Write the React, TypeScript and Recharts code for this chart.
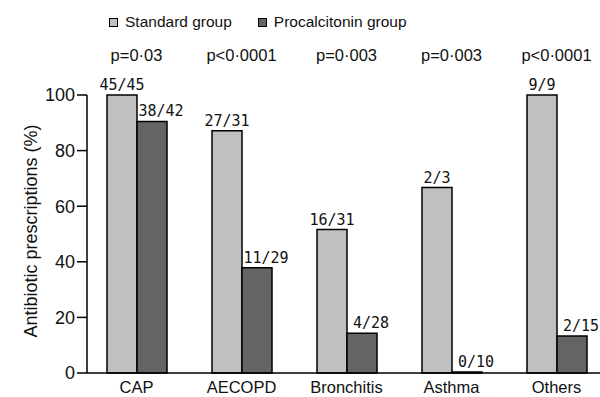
import React from 'react';
import { BarChart, Bar, XAxis, YAxis, Legend, LabelList } from 'recharts';

const categories = ['CAP', 'AECOPD', 'Bronchitis', 'Asthma', 'Others'];
const seriesNames = ['Standard group', 'Procalcitonin group'];
const standardPct = [100, 87.1, 51.6, 66.7, 100];
const procalcitoninPct = [90.5, 37.9, 14.3, 0, 13.3];
const standardLabels = ['45/45', '27/31', '16/31', '2/3', '9/9'];
const procalcitoninLabels = ['38/42', '11/29', '4/28', '0/10', '2/15'];
const pValues = ['p=0·03', 'p<0·0001', 'p=0·003', 'p=0·003', 'p<0·0001'];
const yTicks = [0, 20, 40, 60, 80, 100];

const STD_COLOR = '#c0c0c0';
const PCT_COLOR = '#646464';
const SANS = '"Liberation Sans", Arial, sans-serif';
const MONO = '"DejaVu Sans Mono", monospace';

const data = categories.map((cat, i) => ({
  cat,
  std: standardPct[i],
  pct: procalcitoninPct[i],
  stdLabel: standardLabels[i],
  pctLabel: procalcitoninLabels[i],
}));

const pByCat: Record<string, string> = {};
categories.forEach((c, i) => { pByCat[c] = pValues[i]; });

const makeLabel = (dx: number) => (props: any) => {
  const { x, y, width, value } = props;
  return (
    <text
      x={Number(x) + Number(width) / 2 + dx}
      y={Number(y) - 5}
      textAnchor="middle"
      fontFamily={MONO}
      fontSize={15}
      fill="#111"
    >
      {value}
    </text>
  );
};

const LegendContent = () => {
  const colors = [STD_COLOR, PCT_COLOR];
  return (
    <div style={{ display: 'flex', alignItems: 'center', fontFamily: SANS, fontSize: 15.5, color: '#111', whiteSpace: 'nowrap' }}>
      {seriesNames.map((name, i) => (
        <div key={name} style={{ display: 'flex', alignItems: 'center', marginLeft: i === 0 ? 0 : 26 }}>
          <span style={{ display: 'inline-block', width: 9, height: 9, boxSizing: 'border-box', border: '1px solid #000', background: colors[i], marginRight: 7 }} />
          <span>{name}</span>
        </div>
      ))}
    </div>
  );
};

const YTitle = (props: any) => {
  const vb = props.viewBox || { x: 0, y: 0, width: 0, height: 0 };
  const cx = vb.x + 24;
  const cy = vb.y + vb.height / 2 - 3;
  return (
    <text
      x={cx}
      y={cy}
      transform={`rotate(-90, ${cx}, ${cy})`}
      textAnchor="middle"
      fontFamily={SANS}
      fontSize={18}
      fill="#111"
    >
      Antibiotic prescriptions (%)
    </text>
  );
};

export default function App() {
  return (
    <div style={{ position: 'fixed', left: 0, top: 0, width: 600, height: 397, background: '#fff' }}>
      <BarChart
        width={600}
        height={397}
        data={data}
        margin={{ top: 55, right: 0, bottom: 0, left: 0 }}
        barGap={0}
        barSize={30}
      >
        <XAxis
          xAxisId="bottom"
          dataKey="cat"
          orientation="bottom"
          height={24}
          padding={{ left: -3, right: -9 }}
          axisLine={{ stroke: '#000', strokeWidth: 1.5 }}
          tickLine={false}
          tickSize={0}
          tickMargin={8}
          interval={0}
          tick={{ fill: '#111', fontFamily: SANS, fontSize: 16.5 }}
        />
        <XAxis
          xAxisId="top"
          dataKey="cat"
          orientation="top"
          height={40}
          padding={{ left: -3, right: -9 }}
          axisLine={false}
          tickLine={false}
          tickSize={0}
          tickMargin={34}
          interval={0}
          tickFormatter={(v: string) => pByCat[v]}
          tick={{ fill: '#111', fontFamily: SANS, fontSize: 16.5 }}
        />
        <YAxis
          yAxisId="spacer"
          width={13}
          domain={[0, 100]}
          ticks={yTicks}
          axisLine={false}
          tickLine={false}
          tick={false}
        />
        <YAxis
          yAxisId="main"
          width={74}
          domain={[0, 100]}
          ticks={yTicks}
          interval={0}
          axisLine={{ stroke: '#000', strokeWidth: 1.5 }}
          tickLine={{ stroke: '#000', strokeWidth: 1.5 }}
          tickSize={10}
          tickMargin={2}
          tick={{ fill: '#111', fontFamily: SANS, fontSize: 18 }}
          label={<YTitle />}
        />
        <Legend
          verticalAlign="middle"
          align="center"
          layout="horizontal"
          wrapperStyle={{ top: 13, left: 109, width: 'auto', height: 'auto' }}
          content={<LegendContent />}
        />
        <Bar
          xAxisId="bottom"
          yAxisId="main"
          dataKey="std"
          name={seriesNames[0]}
          fill={STD_COLOR}
          stroke="#000"
          strokeWidth={1.5}
          isAnimationActive={false}
        >
          <LabelList dataKey="stdLabel" content={makeLabel(0)} />
        </Bar>
        <Bar
          xAxisId="bottom"
          yAxisId="main"
          dataKey="pct"
          name={seriesNames[1]}
          fill={PCT_COLOR}
          stroke="#000"
          strokeWidth={1.5}
          minPointSize={1}
          isAnimationActive={false}
        >
          <LabelList dataKey="pctLabel" content={makeLabel(9)} />
        </Bar>
      </BarChart>
    </div>
  );
}
